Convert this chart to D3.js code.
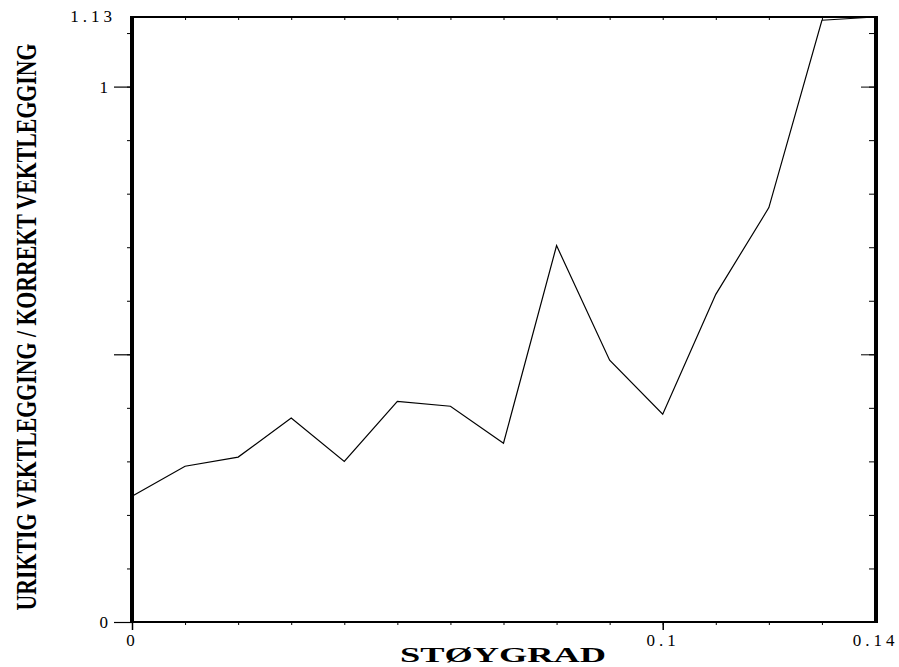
<!DOCTYPE html>
<html>
<head>
<meta charset="utf-8">
<script src="https://cdn.jsdelivr.net/npm/d3@7"></script>
<style>
  body { margin: 0; background: #fff; }
  svg { display: block; }
  .tick text { font-family: "Liberation Serif", serif; }
</style>
</head>
<body>
<div id="chart"></div>
<script>
// data
const noise = [0, 0.01, 0.02, 0.03, 0.04, 0.05, 0.06, 0.07, 0.08, 0.09, 0.10, 0.11, 0.12, 0.13, 0.14];
const ratio = [0.235, 0.291, 0.308, 0.381, 0.300, 0.412, 0.403, 0.334, 0.703, 0.489, 0.388, 0.612, 0.774, 1.124, 1.13];
const xLabelTicks = [0, 0.1, 0.14];
const yLabelTicks = [0, 1];
const yTopLabel = 1.13;

const w = 899, h = 667;
// plot edges
const plotL = 132, plotR = 875, plotT = 17, plotB = 622;

const svg = d3.select('#chart').append('svg')
  .attr('width', w)
  .attr('height', h);

const x = d3.scaleLinear().domain([0, 0.14]).range([plotL, plotR]);
const y = d3.scaleLinear().domain([0, 1.13]).range([plotB, plotT]);

const minorX = d3.range(0, 15).map(i => i / 100);
const minorY = d3.range(0, 12).map(i => i / 10);

const clean = g => g.select('.domain').remove();

// bottom axis
svg.append('g')
  .attr('transform', 'translate(0,' + plotB + ')')
  .call(d3.axisBottom(x).tickValues(minorX.slice(0, 14)).tickSize(3).tickFormat(''))
  .call(clean);
svg.append('g')
  .attr('transform', 'translate(0,' + plotB + ')')
  .call(d3.axisBottom(x).tickValues(xLabelTicks).tickSize(8).tickPadding(4)
    .tickFormat(d => String(d)))
  .call(clean)
  .call(g => g.selectAll('.tick').filter(d => d === 0.14).select('line').remove())
  .call(g => g.selectAll('.tick line').attr('stroke-width', 1.5))
  .call(g => g.selectAll('.tick text').attr('font-size', 17).attr('letter-spacing', 4).attr('fill', '#000'));

// top axis, ticks inward
svg.append('g')
  .attr('transform', 'translate(0,' + plotT + ')')
  .call(d3.axisBottom(x).tickValues(minorX.slice(1, 14)).tickSize(3).tickFormat(''))
  .call(clean);

// left axis
svg.append('g')
  .attr('transform', 'translate(' + plotL + ',0)')
  .call(d3.axisLeft(y).tickValues(minorY).tickSize(5).tickFormat(''))
  .call(clean);
svg.append('g')
  .attr('transform', 'translate(' + plotL + ',0)')
  .call(d3.axisLeft(y).tickValues([0, 0.5, 1]).tickSize(18).tickPadding(2)
    .tickFormat(d => yLabelTicks.includes(d) ? String(d) : ''))
  .call(clean)
  .call(g => g.selectAll('.tick line').attr('stroke-width', 1.2))
  .call(g => g.selectAll('.tick text').attr('font-size', 17).attr('letter-spacing', 4).attr('fill', '#000'));
svg.append('text')
  .attr('x', 116)
  .attr('y', y(yTopLabel))
  .attr('dy', '0.32em')
  .attr('text-anchor', 'end')
  .attr('font-family', 'Liberation Serif, serif')
  .attr('font-size', 17)
  .attr('letter-spacing', 4)
  .text(String(yTopLabel));

// right axis, ticks inward
svg.append('g')
  .attr('transform', 'translate(' + plotR + ',0)')
  .call(d3.axisLeft(y).tickValues(minorY).tickSize(6).tickFormat(''))
  .call(clean);
svg.append('g')
  .attr('transform', 'translate(' + plotR + ',0)')
  .call(d3.axisLeft(y).tickValues([0.5, 1]).tickSize(14).tickFormat(''))
  .call(clean);

// frame
svg.append('line').attr('x1', plotL - 1).attr('x2', plotR + 1).attr('y1', plotT).attr('y2', plotT)
  .attr('stroke', '#000').attr('stroke-width', 2);
svg.append('line').attr('x1', plotL - 1).attr('x2', plotR + 1).attr('y1', plotB).attr('y2', plotB)
  .attr('stroke', '#000').attr('stroke-width', 2);
svg.append('line').attr('x1', plotL).attr('x2', plotL).attr('y1', plotT - 1).attr('y2', plotB + 1)
  .attr('stroke', '#000').attr('stroke-width', 4);
svg.append('line').attr('x1', plotR + 1).attr('x2', plotR + 1).attr('y1', plotT - 1).attr('y2', plotB + 1)
  .attr('stroke', '#000').attr('stroke-width', 4);

// data line
const line = d3.line()
  .x((d, i) => x(noise[i]))
  .y(d => y(d));
svg.append('path')
  .datum(ratio)
  .attr('d', line)
  .attr('fill', 'none')
  .attr('stroke', '#000')
  .attr('stroke-width', 1.2);

// axis titles
svg.append('text')
  .attr('x', 503)
  .attr('y', 662)
  .attr('text-anchor', 'middle')
  .attr('font-family', 'Liberation Serif, serif')
  .attr('font-weight', 'bold')
  .attr('font-size', 20)
  .attr('textLength', 206)
  .attr('lengthAdjust', 'spacingAndGlyphs')
  .text('STØYGRAD');

svg.append('text')
  .attr('transform', 'translate(36,327) rotate(-90)')
  .attr('text-anchor', 'middle')
  .attr('font-family', 'Liberation Serif, serif')
  .attr('font-weight', 'bold')
  .attr('font-size', 30)
  .attr('textLength', 567)
  .attr('lengthAdjust', 'spacingAndGlyphs')
  .text('URIKTIG VEKTLEGGING / KORREKT VEKTLEGGING');
</script>
</body>
</html>
